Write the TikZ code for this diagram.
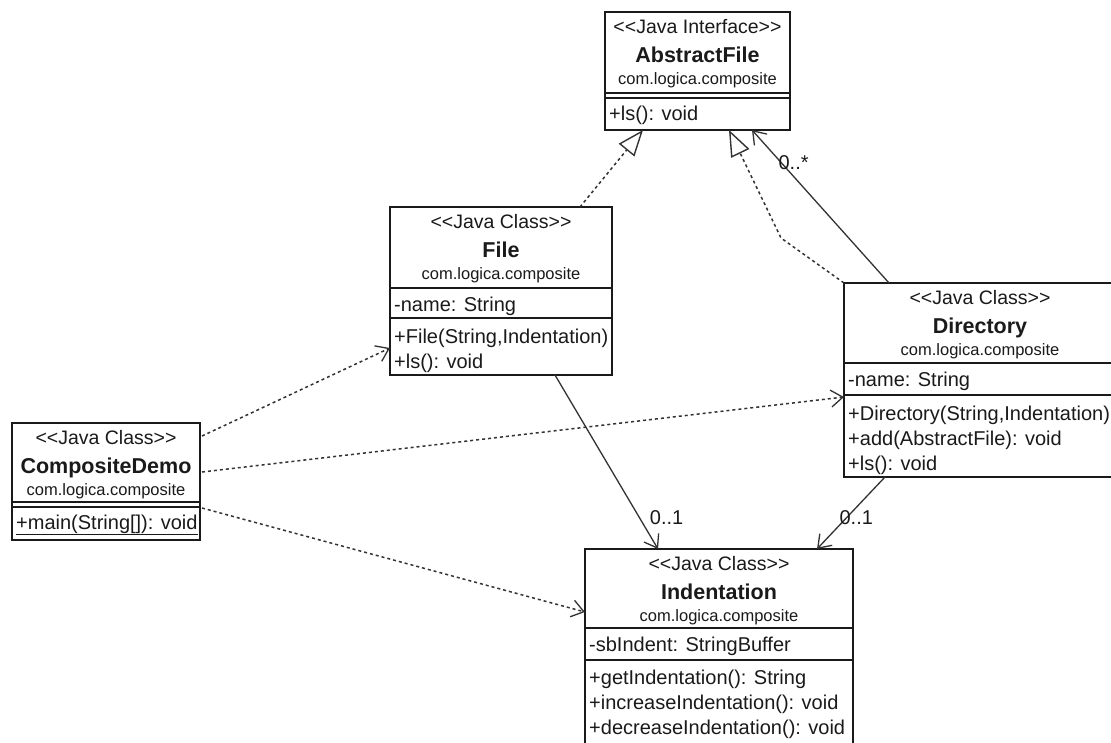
\documentclass[tikz,border=0pt]{standalone}
\usepackage{fontspec}
\setmainfont{Liberation Sans}
\usetikzlibrary{arrows.meta}
\definecolor{ink}{HTML}{1A1A1A}
\definecolor{conn}{HTML}{333333}
\newcommand\stL{<\kern0pt<}
\newcommand\stR{>\kern0pt>}
\tikzset{
 box/.style={draw=ink, line width=1.7pt, rectangle, inner sep=0pt, outer sep=0pt, anchor=north west},
 sepline/.style={draw=ink, line width=1.4pt},
 stereo/.style={anchor=base, inner sep=0pt, text=ink, font=\fontsize{19.5}{22}\selectfont},
 cname/.style={anchor=base, inner sep=0pt, text=ink, font=\fontsize{21.5}{24}\selectfont\bfseries},
 pkg/.style={anchor=base, inner sep=0pt, text=ink, font=\fontsize{16.5}{19}\selectfont},
 member/.style={anchor=base west, inner sep=0pt, text=ink, font=\fontsize{20}{24}\selectfont},
 mult/.style={inner sep=0pt, text=ink, font=\fontsize{20}{24}\selectfont},
 realize/.style={draw=conn, line width=1.5pt, dash pattern=on 3pt off 3pt, -{Triangle[open, length=26pt, width=20pt, line width=1.4pt]}},
 depend/.style={draw=conn, line width=1.5pt, dash pattern=on 3pt off 3pt, -{Straight Barb[length=12pt, width=17pt, line width=1.3pt]}},
 assoc/.style={draw=conn, line width=1.3pt, -{Straight Barb[length=12pt, width=17pt]}},
}
\begin{document}
\begin{tikzpicture}[x=1pt,y=-1pt]
\useasboundingbox (0,0) rectangle (1111,742);
\fill[white] (0,0) rectangle (1111,742);
\clip (0,0) rectangle (1111,742);

% ---------- AbstractFile ----------
\node[box, minimum width=185pt, minimum height=118pt] (afile) at (605,12) {};
\node[stereo] (af-s) at ([yshift=-21pt]afile.north) {\stL Java Interface\stR};
\node[cname] (af-n) at ([yshift=-50pt]afile.north) {AbstractFile};
\node[pkg] (af-p) at ([yshift=-72pt]afile.north) {com.logica.composite};
\draw[sepline] ([yshift=-81pt]afile.north west) -- ([yshift=-81pt]afile.north east);
\draw[sepline] ([yshift=-86pt]afile.north west) -- ([yshift=-86pt]afile.north east);
\node[member] (af-m1) at ([xshift=4pt,yshift=-108pt]afile.north west) {+ls(): void};

% ---------- File ----------
\node[box, minimum width=222pt, minimum height=168pt] (file) at (390,207) {};
\node[stereo] (f-s) at ([yshift=-21pt]file.north) {\stL Java Class\stR};
\node[cname] (f-n) at ([yshift=-50pt]file.north) {File};
\node[pkg] (f-p) at ([yshift=-72pt]file.north) {com.logica.composite};
\draw[sepline] ([yshift=-81pt]file.north west) -- ([yshift=-81pt]file.north east);
\node[member] (f-a1) at ([xshift=4pt,yshift=-104pt]file.north west) {-name: String};
\draw[sepline] ([yshift=-111pt]file.north west) -- ([yshift=-111pt]file.north east);
\node[member] (f-m1) at ([xshift=4pt,yshift=-136pt]file.north west) {+File(String,Indentation)};
\node[member] (f-m2) at ([xshift=4pt,yshift=-161pt]file.north west) {+ls(): void};

% ---------- Directory ----------
\node[box, minimum width=272pt, minimum height=194pt] (dir) at (844,283) {};
\node[stereo] (d-s) at ([yshift=-21pt]dir.north) {\stL Java Class\stR};
\node[cname] (d-n) at ([yshift=-50pt]dir.north) {Directory};
\node[pkg] (d-p) at ([yshift=-72pt]dir.north) {com.logica.composite};
\draw[sepline] ([yshift=-80pt]dir.north west) -- ([yshift=-80pt]dir.north east);
\node[member] (d-a1) at ([xshift=4pt,yshift=-103pt]dir.north west) {-name: String};
\draw[sepline] ([yshift=-112pt]dir.north west) -- ([yshift=-112pt]dir.north east);
\node[member] (d-m1) at ([xshift=4pt,yshift=-137pt]dir.north west) {+Directory(String,Indentation)};
\node[member] (d-m2) at ([xshift=4pt,yshift=-162pt]dir.north west) {+add(AbstractFile): void};
\node[member] (d-m3) at ([xshift=4pt,yshift=-187pt]dir.north west) {+ls(): void};

% ---------- CompositeDemo ----------
\node[box, minimum width=188pt, minimum height=117pt] (cd) at (12,423) {};
\node[stereo] (c-s) at ([yshift=-21pt]cd.north) {\stL Java Class\stR};
\node[cname] (c-n) at ([yshift=-50pt]cd.north) {CompositeDemo};
\node[pkg] (c-p) at ([yshift=-72pt]cd.north) {com.logica.composite};
\draw[sepline] ([yshift=-79pt]cd.north west) -- ([yshift=-79pt]cd.north east);
\draw[sepline] ([yshift=-84pt]cd.north west) -- ([yshift=-84pt]cd.north east);
\node[member] (c-m1) at ([xshift=4pt,yshift=-106pt]cd.north west) {\underline{+main(String[]): void}};

% ---------- Indentation ----------
\node[box, minimum width=268pt, minimum height=210pt] (ind) at (585,549) {};
\node[stereo] (i-s) at ([yshift=-21pt]ind.north) {\stL Java Class\stR};
\node[cname] (i-n) at ([yshift=-50pt]ind.north) {Indentation};
\node[pkg] (i-p) at ([yshift=-72pt]ind.north) {com.logica.composite};
\draw[sepline] ([yshift=-79pt]ind.north west) -- ([yshift=-79pt]ind.north east);
\node[member] (i-a1) at ([xshift=4pt,yshift=-102pt]ind.north west) {-sbIndent: StringBuffer};
\draw[sepline] ([yshift=-111pt]ind.north west) -- ([yshift=-111pt]ind.north east);
\node[member] (i-m1) at ([xshift=4pt,yshift=-135pt]ind.north west) {+getIndentation(): String};
\node[member] (i-m2) at ([xshift=4pt,yshift=-160pt]ind.north west) {+increaseIndentation(): void};
\node[member] (i-m3) at ([xshift=4pt,yshift=-185pt]ind.north west) {+decreaseIndentation(): void};

% ---------- Connectors ----------
\draw[realize] ([xshift=190pt]file.north west) -- ([xshift=38pt]afile.south west);
\draw[realize] (dir.north west) -- ([xshift=-63pt,yshift=45pt]dir.north west) -- ([xshift=124pt]afile.south west);
\draw[assoc] ([xshift=45pt]dir.north west) -- node[mult, pos=0.784, xshift=12pt] (m-star) {0..*} ([xshift=147pt]afile.south west);
\draw[assoc] ([xshift=165pt]file.south west) -- node[mult, pos=0.822, xshift=27pt] (m-f) {0..1} ([xshift=73pt]ind.north west);
\draw[assoc] ([xshift=41pt]dir.south west) -- node[mult, pos=0.57, xshift=10pt] (m-d) {0..1} ([xshift=232pt]ind.north west);
\draw[depend] ([xshift=2pt,yshift=-13pt]cd.north east) -- ([yshift=-141pt]file.north west);
\draw[depend] ([xshift=2pt,yshift=-49pt]cd.north east) -- ([yshift=-114pt]dir.north west);
\draw[depend] ([xshift=2pt,yshift=-85pt]cd.north east) -- ([yshift=-63pt]ind.north west);
\end{tikzpicture}
\end{document}
